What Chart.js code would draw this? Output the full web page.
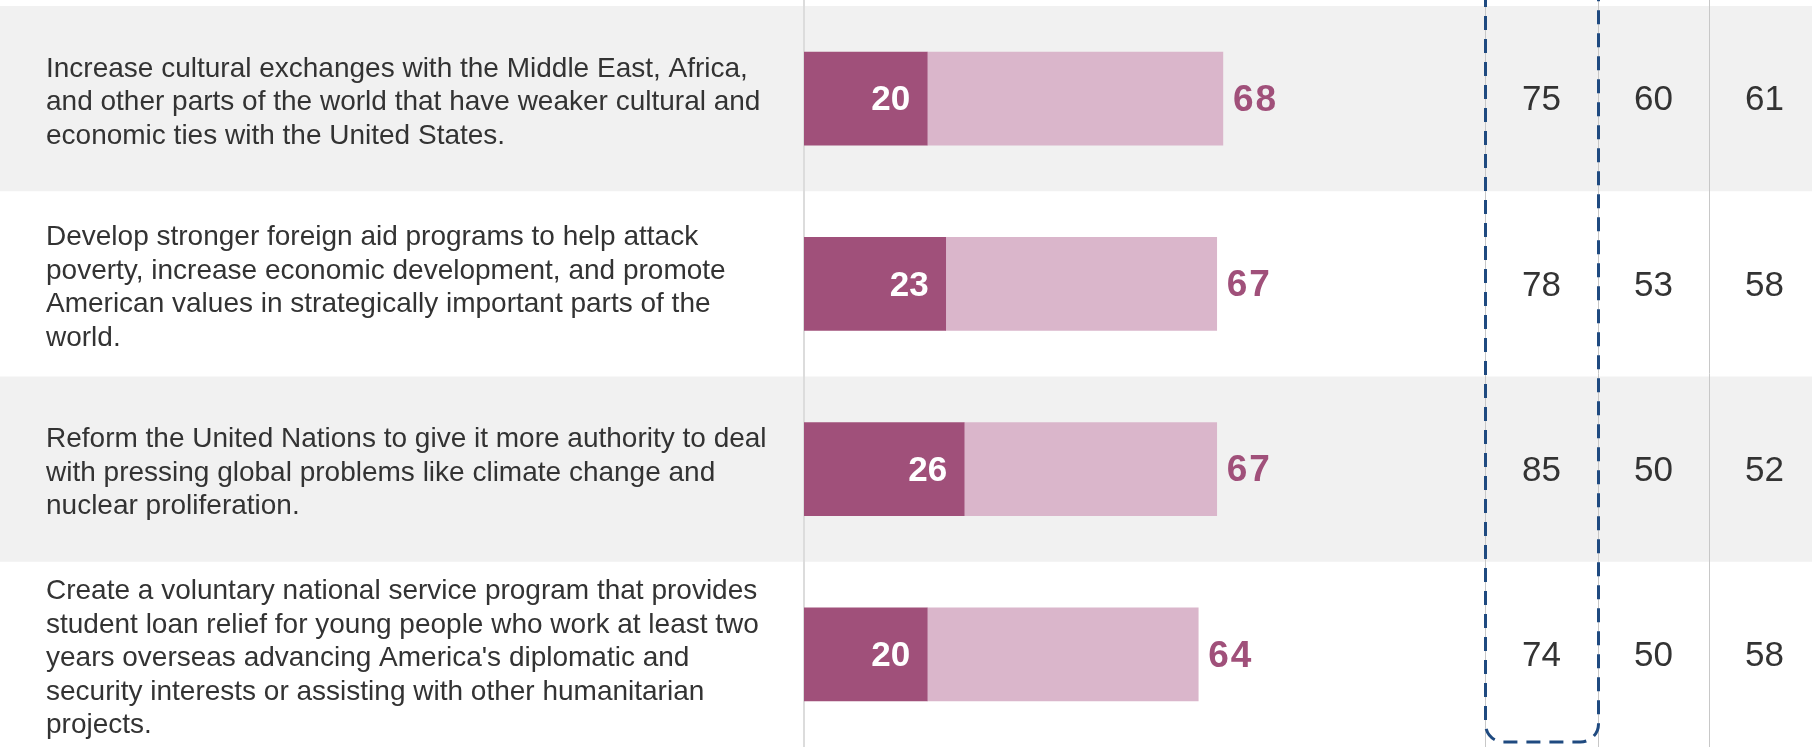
<!DOCTYPE html>
<html>
<head>
    <title>Policy support</title>
    <script src="https://cdn.jsdelivr.net/npm/chart.js"></script>
    <style>
        html, body { margin: 0; padding: 0; background: #fff; }
        canvas { display: block; }
    </style>
</head>
<body>
    <canvas id="policyChart" width="1812" height="747"></canvas>
    <script>
        // question wording, one array of lines per row
        const categories = [
            ['Increase cultural exchanges with the Middle East, Africa,',
             'and other parts of the world that have weaker cultural and',
             'economic ties with the United States.'],
            ['Develop stronger foreign aid programs to help attack',
             'poverty, increase economic development, and promote',
             'American values in strategically important parts of the',
             'world.'],
            ['Reform the United Nations to give it more authority to deal',
             'with pressing global problems like climate change and',
             'nuclear proliferation.'],
            ['Create a voluntary national service program that provides',
             'student loan relief for young people who work at least two',
             "years overseas advancing America's diplomatic and",
             'security interests or assisting with other humanitarian',
             'projects.']
        ];
        const strongSupport = [20, 23, 26, 20];
        const somewhatSupport = [48, 44, 41, 44];
        const totalSupport = [68, 67, 67, 64];
        // the three comparison columns on the right
        const colA = [75, 78, 85, 74];
        const colB = [60, 53, 50, 50];
        const colC = [61, 58, 52, 58];

        const darkColor = '#a0507a';
        const lightColor = '#dab6cb';
        const textColor = '#333333';
        const fontFamily = '"Liberation Sans", Arial, sans-serif';

        const colLines = [1485, 1598, 1709, 1820];

        const decorPlugin = {
            id: 'decor',
            beforeDraw(chart) {
                const ctx = chart.ctx;
                const y = chart.scales.y;
                const W = chart.width;
                ctx.save();
                ctx.fillStyle = '#ffffff';
                ctx.fillRect(0, 0, W, chart.height);
                const half = (y.getPixelForValue(1) - y.getPixelForValue(0)) / 2;
                categories.forEach((c, i) => {
                    if (i % 2 === 0) {
                        const cy = y.getPixelForValue(i);
                        ctx.fillStyle = '#f1f1f1';
                        ctx.fillRect(0, cy - half, W, half * 2);
                    }
                });
                // axis line at zero
                ctx.strokeStyle = '#dcdcdc';
                ctx.lineWidth = 2;
                const x0 = chart.scales.x.getPixelForValue(0);
                ctx.beginPath();
                ctx.moveTo(x0, 0);
                ctx.lineTo(x0, chart.height);
                ctx.stroke();
                // column separators
                ctx.strokeStyle = '#c8c8c8';
                ctx.lineWidth = 1;
                colLines.slice(0, 3).forEach(lx => {
                    ctx.beginPath();
                    ctx.moveTo(lx + 0.5, 0);
                    ctx.lineTo(lx + 0.5, chart.height);
                    ctx.stroke();
                });
                ctx.restore();
            },
            afterDatasetsDraw(chart) {
                const ctx = chart.ctx;
                const xs = chart.scales.x;
                const ys = chart.scales.y;
                ctx.save();
                ctx.textBaseline = 'middle';

                categories.forEach((lines, i) => {
                    const cy = ys.getPixelForValue(i);
                    // value labels
                    ctx.font = 'bold 35px ' + fontFamily;
                    ctx.letterSpacing = '0px';
                    ctx.fillStyle = '#ffffff';
                    ctx.textAlign = 'right';
                    ctx.fillText(strongSupport[i], xs.getPixelForValue(strongSupport[i]) - 17, cy + 2);
                    ctx.font = 'bold 37px ' + fontFamily;
                    ctx.letterSpacing = '2px';
                    ctx.fillStyle = darkColor;
                    ctx.textAlign = 'left';
                    ctx.fillText(totalSupport[i], xs.getPixelForValue(totalSupport[i]) + 10, cy + 2);
                    ctx.letterSpacing = '0px';

                    // question text
                    ctx.font = '28px ' + fontFamily;
                    ctx.fillStyle = textColor;
                    const lh = 33.5;
                    const top = cy + 4 - (lines.length - 1) * lh / 2;
                    lines.forEach((ln, k) => ctx.fillText(ln, 46, top + k * lh));

                    // comparison columns
                    ctx.font = '35px ' + fontFamily;
                    ctx.textAlign = 'center';
                    [colA, colB, colC].forEach((col, j) => {
                        const cx = (colLines[j] + colLines[j + 1]) / 2;
                        ctx.fillText(col[i], cx, cy + 2);
                    });
                });

                // dashed highlight around first column
                ctx.strokeStyle = '#1f4a80';
                ctx.lineWidth = 3;
                ctx.setLineDash([14, 9]);
                const l = colLines[0] + 0.5, r = colLines[1] + 0.5, b = 742, t = -30, rad = 18;
                ctx.beginPath();
                ctx.moveTo(l, t);
                ctx.lineTo(l, b - rad);
                ctx.arcTo(l, b, l + rad, b, rad);
                ctx.lineTo(r - rad, b);
                ctx.arcTo(r, b, r, b - rad, rad);
                ctx.lineTo(r, t);
                ctx.stroke();
                ctx.restore();
            }
        };

        const ctx = document.getElementById('policyChart').getContext('2d');
        new Chart(ctx, {
            type: 'bar',
            data: {
                labels: categories,
                datasets: [{
                    label: 'Strongly support',
                    data: strongSupport,
                    backgroundColor: darkColor,
                    barThickness: 93
                }, {
                    label: 'Somewhat support',
                    data: somewhatSupport,
                    backgroundColor: lightColor,
                    barThickness: 93
                }]
            },
            options: {
                indexAxis: 'y',
                responsive: false,
                animation: false,
                devicePixelRatio: 1,
                layout: { padding: { left: 804, right: 392, top: 6, bottom: 0 } },
                scales: {
                    x: { stacked: true, min: 0, max: 100, display: false },
                    y: { stacked: true, display: false }
                },
                plugins: {
                    legend: { display: false },
                    tooltip: { enabled: false }
                }
            },
            plugins: [decorPlugin]
        });
    </script>
</body>
</html>
